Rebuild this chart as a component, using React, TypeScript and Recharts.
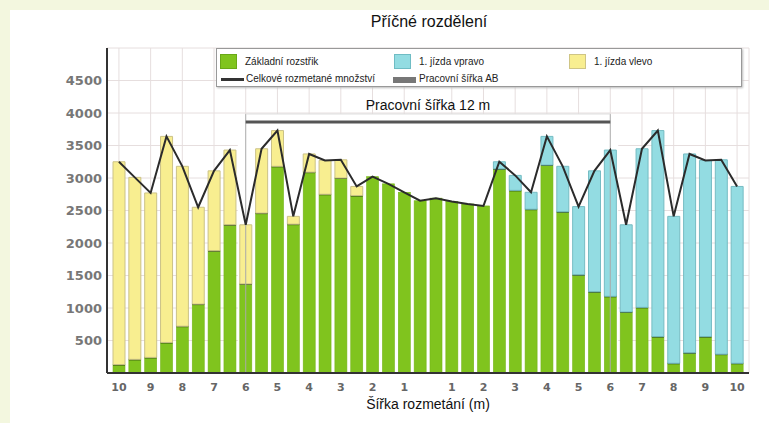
import React from 'react';
import { ComposedChart, Bar, Line, XAxis, YAxis, CartesianGrid, Legend, ReferenceArea, ReferenceLine } from 'recharts';

// spread width positions (m), left half then right half
const xLabels = ['10', '', '9', '', '8', '', '7', '', '6', '', '5', '', '4', '', '3', '', '2', '', '1', '', '', '1', '', '2', '', '3', '', '4', '', '5', '', '6', '', '7', '', '8', '', '9', '', '10'];

const baseSpread = [130, 210, 240, 470, 720, 1060, 1880, 2280, 1370, 2460, 3180, 2290, 3090, 2750, 3000, 2730, 3020, 2910, 2780, 2650, 2690, 2640, 2600, 2570, 3140, 2810, 2520, 3200, 2480, 1510, 1250, 1180, 940, 1010, 560, 150, 310, 560, 290, 150];
const leftPass = [3120, 2800, 2530, 3170, 2460, 1490, 1230, 1150, 910, 990, 550, 120, 280, 520, 280, 140, 0, 0, 0, 0, 0, 0, 0, 0, 0, 0, 0, 0, 0, 0, 0, 0, 0, 0, 0, 0, 0, 0, 0, 0];
const rightPass = [0, 0, 0, 0, 0, 0, 0, 0, 0, 0, 0, 0, 0, 0, 0, 0, 0, 0, 0, 0, 0, 0, 0, 0, 110, 230, 260, 440, 700, 1050, 1860, 2250, 1340, 2440, 3170, 2260, 3060, 2710, 2990, 2720];
const totalAmount = [3250, 3010, 2770, 3640, 3180, 2550, 3110, 3430, 2280, 3450, 3730, 2410, 3370, 3270, 3280, 2870, 3020, 2910, 2780, 2650, 2690, 2640, 2600, 2570, 3250, 3040, 2780, 3640, 3180, 2560, 3110, 3430, 2280, 3450, 3730, 2410, 3370, 3270, 3280, 2870];

const yTicks = [500, 1000, 1500, 2000, 2500, 3000, 3500, 4000, 4500];
const workStart = 8;
const workEnd = 31;

const GREEN = '#80c41e';
const CYAN = '#93dce2';
const YELLOW = '#f8ee90';

const data = xLabels.map((_, i) => ({
  pos: i,
  green: baseSpread[i],
  yellow: leftPass[i],
  cyan: rightPass[i],
  total: totalAmount[i],
}));

const labelTicks = xLabels.map((l, i) => (l ? i : -1)).filter((i) => i >= 0);

const GreenShape = (p: any) => {
  const { x, y, width, height, payload } = p;
  if (!height) return null;
  const capped = payload.yellow > 0 || payload.cyan > 0;
  return (
    <g>
      <rect x={x} y={y} width={width} height={height} fill={GREEN} stroke="#74b418" strokeWidth={0.6} />
      {capped && <line x1={x} x2={x + width} y1={y} y2={y} stroke="#2d4a12" strokeWidth={2} />}
    </g>
  );
};

const LegendBox = () => {
  const txt: React.CSSProperties = { position: 'absolute', fontSize: 10, color: '#222', lineHeight: '12px' };
  const sw = (left: number, top: number, w: number, h: number, bg: string, border: string): React.CSSProperties => ({
    position: 'absolute', left, top, width: w, height: h, background: bg, border: `1px solid ${border}`, boxSizing: 'border-box',
  });
  return (
    <div style={{ position: 'relative', width: 526, height: 39, background: '#fff', border: '1px solid #999', boxSizing: 'border-box', boxShadow: '1px 1px 2px #bbb', fontFamily: '"Liberation Sans", Arial, sans-serif' }}>
      <div style={sw(3, 5, 17, 15, GREEN, '#6aa818')} />
      <div style={{ ...txt, left: 28, top: 7 }}>Základní rozstřik</div>
      <div style={sw(177, 5, 17, 15, CYAN, '#6fbcc4')} />
      <div style={{ ...txt, left: 202, top: 7 }}>1. jízda vpravo</div>
      <div style={sw(352, 5, 17, 15, YELLOW, '#cfc585')} />
      <div style={{ ...txt, left: 377, top: 7 }}>1. jízda vlevo</div>
      <div style={{ position: 'absolute', left: 4, top: 29, width: 23, height: 3, background: '#333' }} />
      <div style={{ ...txt, left: 29, top: 24 }}>Celkové rozmetané množství</div>
      <div style={{ position: 'absolute', left: 176, top: 28, width: 23, height: 6, background: '#777' }} />
      <div style={{ ...txt, left: 202, top: 24 }}>Pracovní šířka AB</div>
    </div>
  );
};

export default function App() {
  return (
    <div style={{ position: 'absolute', left: 0, top: 0, width: 769, height: 423, background: '#f3f7df', fontFamily: '"Liberation Sans", Arial, sans-serif' }}>
      <div style={{ position: 'absolute', left: 10, top: 10, width: 759, height: 413, background: '#fff' }}>
        <div style={{ position: 'absolute', left: 319, top: 2, width: 200, textAlign: 'center', fontSize: 16, lineHeight: '20px', color: '#111' }}>
          Příčné rozdělení
        </div>
        <ComposedChart width={759} height={413} data={data} margin={{ top: 38, right: 20, bottom: 0, left: 0 }} barSize={12}>
          <CartesianGrid stroke="#e6dede" strokeWidth={1} />
          <ReferenceArea x1={workStart} x2={workEnd} y1={0} y2={3985} fill="#fff" fillOpacity={1} stroke="none" />
          <XAxis
            dataKey="pos"
            type="category"
            ticks={labelTicks}
            interval={0}
            tickFormatter={(v: number) => xLabels[v]}
            padding={{ left: 4, right: 4 }}
            height={50}
            tickLine={false}
            tickSize={0}
            tickMargin={10}
            axisLine={{ stroke: '#333', strokeWidth: 2 }}
            tick={{ fontSize: 11, fontWeight: 'bold', fill: '#666', fontFamily: '"DejaVu Sans", sans-serif' }}
            label={{ value: 'Šířka rozmetání (m)', position: 'insideBottom', offset: 14, fontSize: 14, fill: '#111' }}
          />
          <XAxis xAxisId="top" dataKey="pos" orientation="top" height={0} tick={false} tickLine={false} axisLine={{ stroke: '#999' }} />
          <YAxis
            domain={[0, 5000]}
            ticks={yTicks}
            width={97}
            tickLine={false}
            tickSize={0}
            tickMargin={5}
            axisLine={{ stroke: '#333', strokeWidth: 2 }}
            tick={{ fontSize: 13, fontWeight: 'bold', fill: '#777', fontFamily: '"DejaVu Sans", sans-serif' }}
          />
          <YAxis yAxisId="right" orientation="right" width={0} domain={[0, 5000]} tick={false} tickLine={false} axisLine={{ stroke: '#999' }} />
          <ReferenceLine segment={[{ x: workStart, y: 0 }, { x: workStart, y: 3985 }]} stroke="#aaa" />
          <ReferenceLine segment={[{ x: workEnd, y: 0 }, { x: workEnd, y: 3985 }]} stroke="#aaa" />
          <ReferenceLine segment={[{ x: workStart, y: 3985 }, { x: workEnd, y: 3985 }]} stroke="#ddd" />
          <Bar dataKey="green" stackId="a" fill={GREEN} shape={GreenShape} isAnimationActive={false} />
          <Bar dataKey="yellow" stackId="a" fill={YELLOW} stroke="#cbc287" strokeWidth={1} isAnimationActive={false} />
          <Bar dataKey="cyan" stackId="a" fill={CYAN} stroke="#76bcc3" strokeWidth={1} isAnimationActive={false} />
          <ReferenceLine
            segment={[{ x: workStart, y: 3860 }, { x: workEnd, y: 3860 }]}
            stroke="#555"
            strokeWidth={3}
            label={{ value: 'Pracovní šířka 12 m', position: 'top', offset: 12, fontSize: 14, fill: '#111' }}
          />
          <Line dataKey="total" type="linear" stroke="#2b2b2b" strokeWidth={2} dot={false} isAnimationActive={false} />
          <Legend
            layout="horizontal"
            verticalAlign="middle"
            align="center"
            content={() => <LegendBox />}
            wrapperStyle={{ position: 'absolute', left: 206, top: 38, width: 526, height: 39 }}
          />
        </ComposedChart>
      </div>
    </div>
  );
}
